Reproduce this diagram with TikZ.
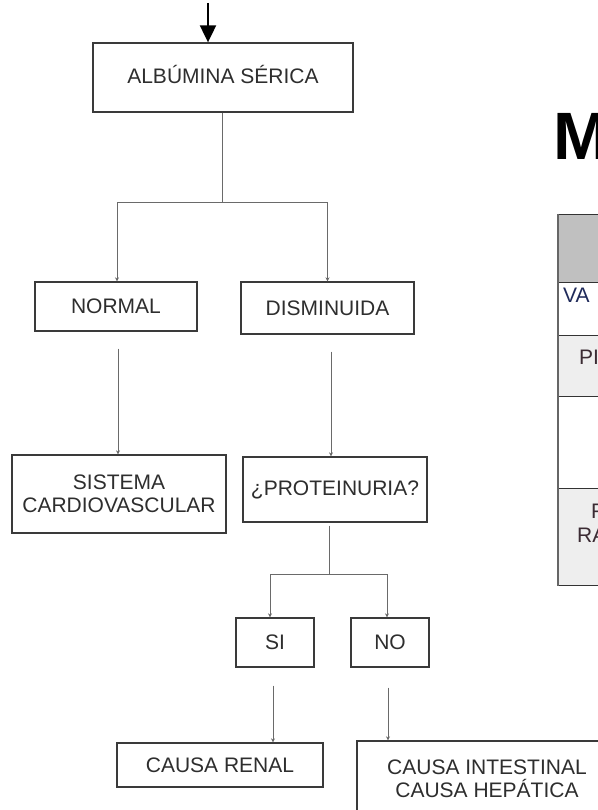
\documentclass[tikz,border=0pt]{standalone}
\usepackage{fontspec}
\setmainfont{Liberation Sans}
\usetikzlibrary{arrows.meta,calc}
\definecolor{boxline}{HTML}{3A3A3A}
\definecolor{boxtext}{HTML}{2E2E2E}
\definecolor{connline}{HTML}{6A6A6A}
\definecolor{hdrgray}{HTML}{C0C0C0}
\definecolor{rowgray}{HTML}{EEEEEE}
\definecolor{tabline}{HTML}{333333}
\definecolor{navytext}{HTML}{1F2A5A}
\definecolor{darktext}{HTML}{3B2B33}
\tikzset{
  fbox/.style={draw=boxline, line width=1.3pt, text=boxtext, align=center,
    font=\fontsize{21}{23}\selectfont, inner sep=0pt},
  conn/.style={draw=connline, line width=1pt},
  arr/.style={conn, -{Stealth[length=4pt,width=4pt]}},
  bigarr/.style={draw=black, line width=2pt, -{Triangle[width=16pt,length=17pt]}},
  tabtxt/.style={anchor=base west, font=\fontsize{21}{24}\selectfont, inner sep=0pt}
}
\begin{document}
\begin{tikzpicture}[x=1pt,y=-1pt]
\useasboundingbox (0,0) rectangle (597,810);
\fill[white] (0,0) rectangle (597,810);

% boxes
\node[fbox, minimum width=260pt, minimum height=69pt] (A) at (223,77.5) {\raisebox{7pt}{ALBÚMINA SÉRICA}};
\node[fbox, minimum width=162pt, minimum height=49pt] (normal) at (116,306.5) {NORMAL};
\node[fbox, minimum width=173pt, minimum height=52pt] (dism) at (327.5,308) {DISMINUIDA};
\node[fbox, minimum width=214pt, minimum height=78pt] (sist) at (119,494) {SISTEMA\\CARDIOVASCULAR};
\node[fbox, minimum width=184pt, minimum height=65pt] (prot) at (335,489.5) {¿PROTEINURIA?};
\node[fbox, minimum width=78pt, minimum height=49pt] (si) at (275,642.5) {SI};
\node[fbox, minimum width=78pt, minimum height=49pt] (no) at (390,642.5) {NO};
\node[fbox, minimum width=206pt, minimum height=44pt] (renal) at (220,765) {CAUSA RENAL};
\node[fbox, minimum width=260pt, minimum height=75pt] (intest) at (487,778.5) {CAUSA INTESTINAL\\CAUSA HEPÁTICA};

% connectors
\coordinate (top) at (208,3);
\draw[bigarr] (top) -- (top |- A.north);
\coordinate (j1) at (222,203);
\draw[conn] (A.south -| j1) -- (j1);
\draw[arr] (j1) -| ([xshift=1pt]normal.north);
\draw[arr] (j1) -| (dism.north);
\draw[arr, shorten <=17pt] ([xshift=2pt]normal.south) -- ([xshift=2pt]normal.south |- sist.north);
\draw[arr, shorten <=17pt] ([xshift=3.5pt]dism.south) -- ([xshift=3.5pt]dism.south |- prot.north);
\coordinate (j2) at (329,574);
\draw[conn, shorten <=3pt] (prot.south -| j2) -- (j2);
\draw[arr] (j2) -| ([xshift=-5pt]si.north);
\draw[arr] (j2) -| ([xshift=-3pt]no.north);
\draw[arr, shorten <=18pt] ([xshift=-2pt]si.south) -- ([xshift=-2pt]si.south |- renal.north);
\draw[arr, shorten <=20pt] ([xshift=-2pt]no.south) -- ([xshift=-2pt]no.south |- intest.north);

% title letter and table (cut at right edge, as in the reference)
\node[anchor=base west, inner sep=0pt, font=\bfseries\fontsize{67}{70}\selectfont] (title) at (553,160) {M};
\fill[hdrgray] (558,215) rectangle (610,282);
\fill[white] (558,282) rectangle (610,335);
\fill[rowgray] (558,335) rectangle (610,396);
\fill[white] (558,396) rectangle (610,488);
\fill[rowgray] (558,488) rectangle (610,585);
\foreach \yy in {215,282,335,396,488,585} \draw[tabline, line width=1pt] (558,\yy) -- (610,\yy);
\draw[draw=black!60, line width=1.6pt] (558,214) -- (558,586);
\node[tabtxt, text=navytext] (va) at (563,302) {VA};
\node[tabtxt, text=darktext] (pi) at (579,364) {PI};
\node[tabtxt, text=darktext] (f) at (591,518) {F};
\node[tabtxt, text=darktext] (ra) at (577,542) {RA};
\end{tikzpicture}
\end{document}
